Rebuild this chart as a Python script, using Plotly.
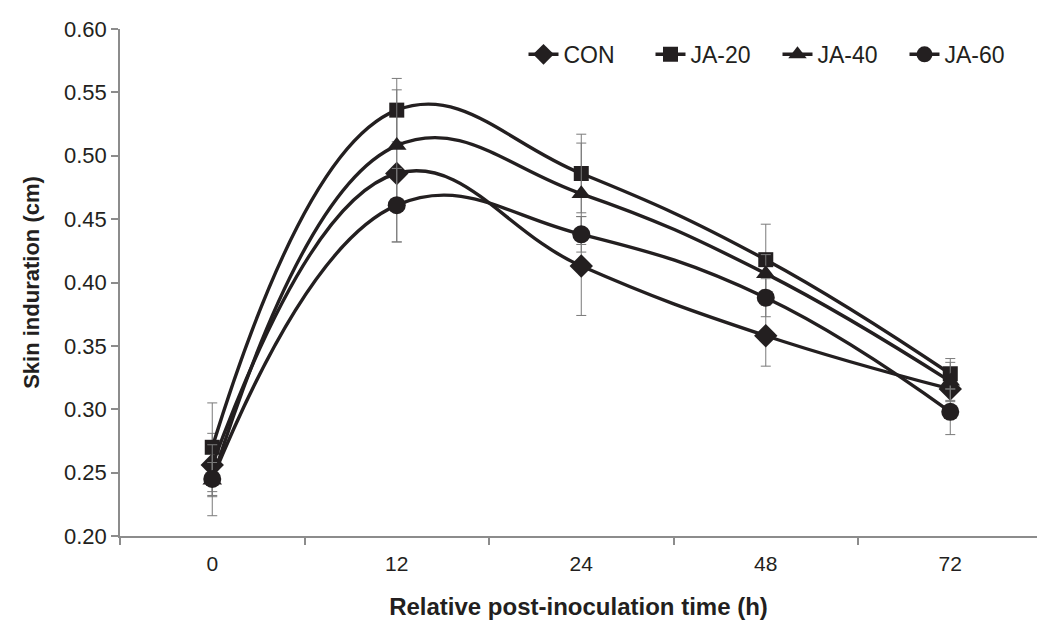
import plotly.graph_objects as go

categories = ["0", "12", "24", "48", "72"]

con = [0.256, 0.486, 0.413, 0.358, 0.316]
ja20 = [0.270, 0.536, 0.486, 0.418, 0.328]
ja40 = [0.244, 0.508, 0.470, 0.407, 0.322]
ja60 = [0.245, 0.461, 0.438, 0.388, 0.298]

con_err = [0.025, 0.054, 0.039, 0.024, 0.010]
ja20_err = [0.035, 0.025, 0.031, 0.028, 0.012]
ja40_err = [0.028, 0.044, 0.040, 0.015, 0.015]
ja60_err = [0.013, 0.029, 0.014, 0.015, 0.018]

series_names = ["CON", "JA-20", "JA-40", "JA-60"]
series_vals = [con, ja20, ja40, ja60]
series_errs = [con_err, ja20_err, ja40_err, ja60_err]
symbols = ["diamond", "square", "triangle-up", "circle"]
sizes = [18, 15, 17, 18]

INK = "#231f20"
AXIS = "#8c8c8c"

fig = go.Figure()
for name, vals, errs, sym, sz in zip(series_names, series_vals, series_errs, symbols, sizes):
    fig.add_trace(go.Scatter(
        x=categories, y=vals, name=name, mode="lines+markers",
        line=dict(color=INK, width=3.4, shape="spline", smoothing=1.2),
        marker=dict(symbol=sym, size=sz, color=INK, line=dict(width=0)),
        error_y=dict(type="data", array=errs, visible=True, color="#7a7a7a",
                     thickness=1, width=5),
    ))

fig.update_layout(
    width=1037, height=626,
    margin=dict(l=120, r=0, t=29, b=90, autoexpand=False),
    paper_bgcolor="white", plot_bgcolor="white",
    font=dict(family="Liberation Sans, Arial, sans-serif", color=INK, size=20),
    showlegend=True,
    legend=dict(orientation="h", x=0.994, xanchor="right", y=0.95, yanchor="middle",
                font=dict(size=23, color=INK), bgcolor="rgba(0,0,0,0)",
                itemwidth=30, tracegroupgap=0,
                entrywidth=82, entrywidthmode="pixels"),
)

fig.update_xaxes(
    type="category", range=[-0.5, 4.47], automargin=False,
    showline=True, linecolor=AXIS, linewidth=1.5,
    ticks="outside", ticklen=7, tickcolor=AXIS, tickwidth=1.5,
    tickson="boundaries", showgrid=False, zeroline=False,
    ticklabelstandoff=8,
    tickfont=dict(family="Liberation Sans Narrow, Arial Narrow, Liberation Sans, sans-serif", size=21, color=INK),
    title=dict(text="<b>Relative post-inoculation time (h)</b>",
               font=dict(family="Liberation Sans Narrow, Arial Narrow, Liberation Sans, sans-serif", size=24, color=INK),
               standoff=24),
)
fig.update_yaxes(
    range=[0.2, 0.6], dtick=0.05, tick0=0.2, tickformat=".2f", automargin=False,
    showline=True, linecolor=AXIS, linewidth=1.5,
    ticks="outside", ticklen=7, tickcolor=AXIS, tickwidth=1.5,
    showgrid=False, zeroline=False,
    tickfont=dict(size=22, color=INK),
    title=dict(text="<b>Skin induration (cm)</b>", font=dict(size=22, color=INK), standoff=18),
)

fig.write_html("out.html",
               config={"displayModeBar": False},
               post_script="document.body.style.margin='0';document.body.style.overflow='hidden';")
